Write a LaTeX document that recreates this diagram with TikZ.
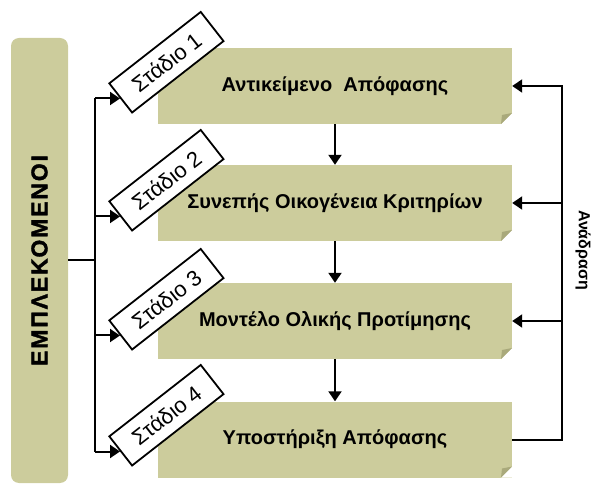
\documentclass[tikz,border=0pt]{standalone}
\usepackage{fontspec}
\setmainfont{Liberation Sans}
\usetikzlibrary{arrows.meta,positioning}
\definecolor{khaki}{HTML}{CCCC9C}
\definecolor{foldc}{HTML}{A9A97B}

\begin{document}
\begin{tikzpicture}[x=1pt,y=-1pt,>={Triangle[length=10pt,width=13pt]},
  stagebox/.style={fill=khaki,minimum width=354pt,minimum height=76pt,inner sep=0pt,
    font=\bfseries\fontsize{20}{22}\selectfont,
    path picture={
      \fill[white] (path picture bounding box.south east) -- ([xshift=-11pt]path picture bounding box.south east)
        -- ([yshift=11pt]path picture bounding box.south east) -- cycle;
      \fill[foldc] ([xshift=-11pt]path picture bounding box.south east) -- ([yshift=11pt]path picture bounding box.south east)
        -- ([xshift=-10pt,yshift=9pt]path picture bounding box.south east) -- cycle;}},
  stagetag/.style={draw,fill=white,line width=1.8pt,rotate=38,anchor=west,minimum width=116pt,
    minimum height=37pt,inner sep=0pt,font=\fontsize{22}{24}\selectfont},
  link/.style={line width=2pt}]
\useasboundingbox (0,0) rectangle (592,486);
% participants bar
\node[fill=khaki,rounded corners=8pt,rotate=90,minimum width=445pt,minimum height=57pt,
  font=\fontsize{23}{25}\selectfont\bfseries\addfontfeatures{LetterSpace=8,FakeBold=1.5}] (actors) at (39.5,260.5) {ΕΜΠΛΕΚΟΜΕΝΟΙ};
% stages
\node[stagebox] (obj) at (335,86) {Αντικείμενο\ \ Απόφασης};
\node[stagebox] (crit) at (335,203) {Συνεπής Οικογένεια Κριτηρίων};
\node[stagebox] (model) at (335,321) {Μοντέλο Ολικής Προτίμησης};
\node[stagebox] (supp) at (335,439.5) {Υποστήριξη Απόφασης};
\draw[->,link] (obj) -- (crit);
\draw[->,link] (crit) -- (model);
\draw[->,link] (model) -- (supp);
% feedback
\coordinate (fb) at (562,0);
\draw[->,link] (supp.east) -- (supp.east -| fb) -- (obj.east -| fb) -- (obj.east);
\draw[->,link] (crit.east -| fb) -- (crit.east);
\draw[->,link] (model.east -| fb) -- (model.east);
\node[rotate=-90,font=\bfseries\fontsize{16}{18}\selectfont] (fblabel) at (583,250) {Ανάδραση};
% stage tags
\node[stagetag] (t1) at (120,98.5) {Στάδιο 1};
\node[stagetag] (t2) at (120,216.5) {Στάδιο 2};
\node[stagetag] (t3) at (120,335.5) {Στάδιο 3};
\node[stagetag] (t4) at (120,451.5) {Στάδιο 4};
\coordinate (spine) at (95,0);
\draw[link] (actors.south) -- (actors.south -| spine);
\draw[link] (t1.west -| spine) -- (t4.west -| spine);
\draw[->,link] (t1.west -| spine) -- (t1.west);
\draw[->,link] (t2.west -| spine) -- (t2.west);
\draw[->,link] (t3.west -| spine) -- (t3.west);
\draw[->,link] (t4.west -| spine) -- (t4.west);
\end{tikzpicture}
\end{document}
